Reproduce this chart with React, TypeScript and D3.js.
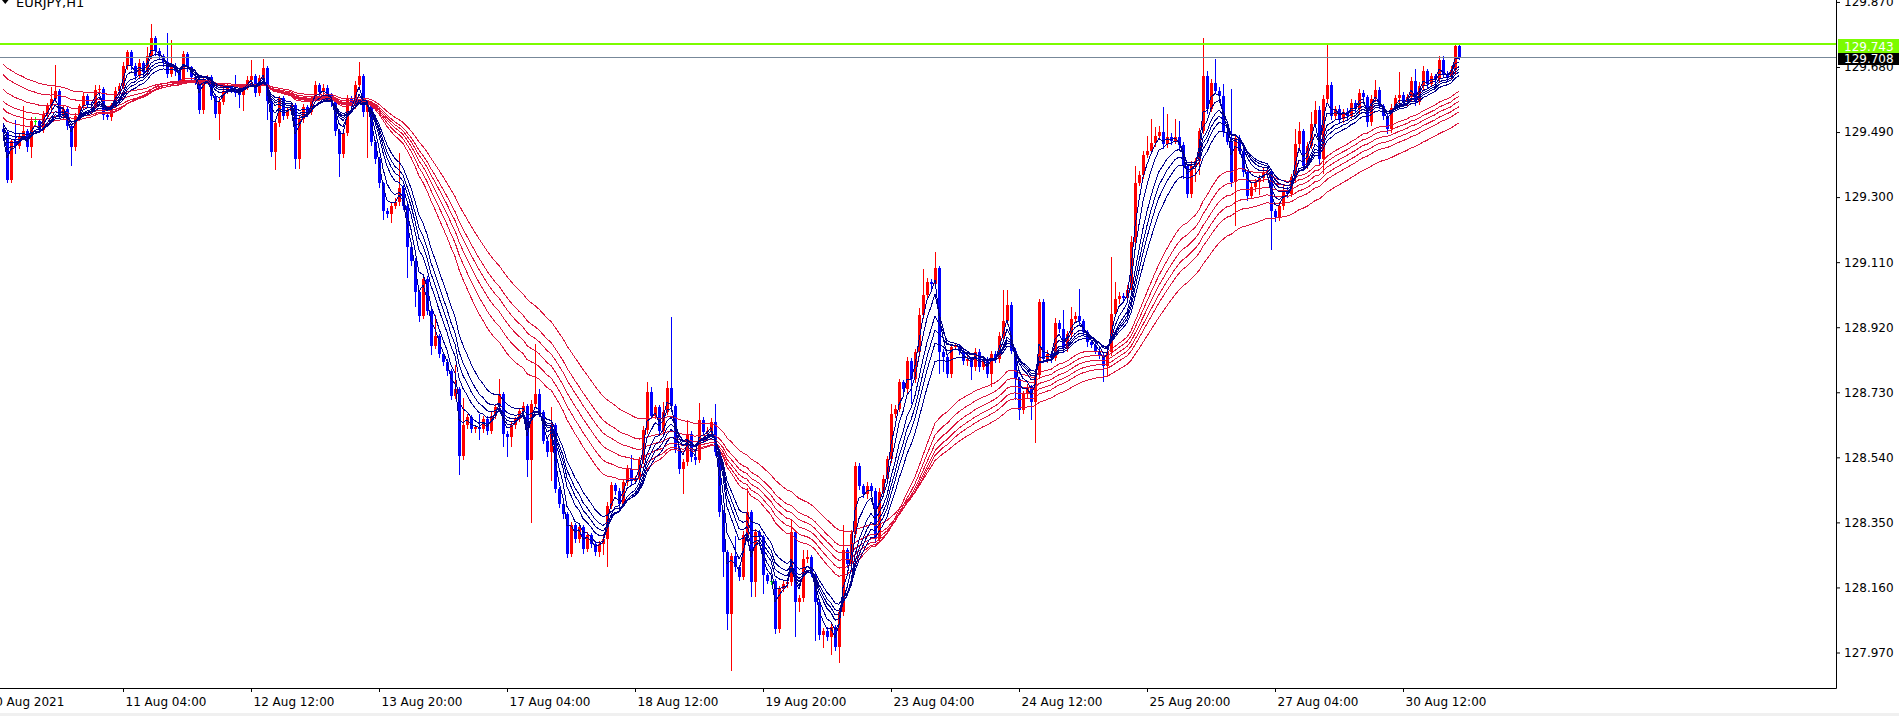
import React, { useRef, useEffect } from 'react';
import * as d3 from 'd3';

// EURJPY H1 closes, one per bar (open = previous close)
const symbol = "EURJPY,H1";
const firstOpen = 129.5;
const closes = [
  129.489, 129.350, 129.465, 129.450, 129.479, 129.494, 129.445, 129.523, 129.523, 129.497,
  129.543, 129.565, 129.586, 129.611, 129.538, 129.557, 129.509, 129.445, 129.538, 129.565,
  129.594, 129.572, 129.569, 129.614, 129.616, 129.540, 129.533, 129.569, 129.611, 129.625,
  129.682, 129.723, 129.684, 129.653, 129.692, 129.664, 129.711, 129.765, 129.728, 129.713,
  129.694, 129.659, 129.684, 129.669, 129.640, 129.718, 129.679, 129.650, 129.643, 129.555,
  129.645, 129.650, 129.596, 129.543, 129.579, 129.611, 129.623, 129.616, 129.604, 129.598,
  129.623, 129.643, 129.653, 129.604, 129.647, 129.677, 129.582, 129.431, 129.516, 129.588,
  129.538, 129.552, 129.569, 129.411, 129.528, 129.562, 129.548, 129.588, 129.627, 129.606,
  129.619, 129.598, 129.577, 129.494, 129.426, 129.487, 129.589, 129.569, 129.628, 129.653,
  129.548, 129.575, 129.460, 129.411, 129.340, 129.260, 129.251, 129.275, 129.285, 129.328,
  129.275, 129.153, 129.114, 129.022, 128.954, 129.061, 128.968, 128.866, 128.895, 128.842,
  128.818, 128.793, 128.720, 128.740, 128.545, 128.633, 128.657, 128.623, 128.628, 128.623,
  128.652, 128.618, 128.662, 128.686, 128.725, 128.608, 128.599, 128.633, 128.652, 128.674,
  128.691, 128.531, 128.696, 128.725, 128.672, 128.589, 128.555, 128.633, 128.448, 128.404,
  128.375, 128.258, 128.341, 128.302, 128.336, 128.273, 128.312, 128.287, 128.263, 128.287,
  128.302, 128.399, 128.458, 128.443, 128.404, 128.467, 128.506, 128.472, 128.477, 128.531,
  128.620, 128.730, 128.662, 128.686, 128.618, 128.672, 128.742, 128.691, 128.564, 128.506,
  128.526, 128.608, 128.540, 128.533, 128.650, 128.613, 128.618, 128.642, 128.555, 128.380,
  128.263, 128.083, 128.251, 128.219, 128.190, 128.312, 128.380, 128.175, 128.321, 128.307,
  128.195, 128.180, 128.180, 128.039, 128.156, 128.170, 128.175, 128.321, 128.117, 128.129,
  128.243, 128.248, 128.200, 128.117, 128.020, 128.034, 128.015, 128.044, 127.986, 128.088,
  128.268, 128.229, 128.316, 128.516, 128.457, 128.433, 128.457, 128.443, 128.302, 128.438,
  128.477, 128.535, 128.667, 128.681, 128.759, 128.740, 128.820, 128.769, 128.847, 128.956,
  129.014, 129.051, 129.046, 129.092, 128.847, 128.832, 128.784, 128.861, 128.864, 128.852,
  128.820, 128.827, 128.803, 128.847, 128.803, 128.827, 128.784, 128.842, 128.827, 128.893,
  128.939, 128.985, 128.852, 128.769, 128.677, 128.725, 128.745, 128.701, 128.779, 128.993,
  128.827, 128.842, 128.829, 128.932, 128.915, 128.858, 128.900, 128.944, 128.952, 128.939,
  128.905, 128.876, 128.868, 128.852, 128.839, 128.808, 128.847, 128.959, 129.002, 129.010,
  129.004, 129.030, 129.170, 129.340, 129.366, 129.424, 129.434, 129.458, 129.479, 129.489,
  129.455, 129.477, 129.465, 129.477, 129.452, 129.392, 129.309, 129.392, 129.405, 129.494,
  129.653, 129.557, 129.633, 129.611, 129.596, 129.489, 129.462, 129.343, 129.472, 129.436,
  129.372, 129.304, 129.329, 129.343, 129.356, 129.372, 129.377, 129.258, 129.241, 129.275,
  129.322, 129.309, 129.358, 129.455, 129.492, 129.392, 129.450, 129.514, 129.555, 129.411,
  129.587, 129.627, 129.538, 129.557, 129.528, 129.550, 129.538, 129.575, 129.557, 129.604,
  129.591, 129.520, 129.587, 129.614, 129.567, 129.538, 129.499, 129.559, 129.589, 129.599,
  129.577, 129.591, 129.640, 129.577, 129.625, 129.667, 129.630, 129.653, 129.645, 129.701,
  129.659, 129.650, 129.672, 129.742, 129.708,
];

// wick lengths above / below the body, in points (0.001)
const upWick = [
  10, 6, 5, 60, 8, 73, 5, 10, 12, 6,
  8, 10, 35, 75, 6, 10, 5, 4, 8, 6,
  10, 8, 6, 12, 10, 5, 8, 6, 10, 8,
  12, 8, 6, 8, 10, 5, 27, 40, 6, 8,
  5, 85, 75, 8, 6, 10, 6, 5, 8, 6,
  10, 8, 6, 5, 12, 8, 10, 6, 40, 8,
  6, 10, 47, 8, 10, 27, 6, 5, 10, 8,
  6, 8, 10, 5, 8, 10, 6, 8, 12, 6,
  10, 8, 6, 5, 6, 10, 8, 6, 10, 42,
  8, 6, 5, 8, 6, 5, 8, 10, 12, 100,
  8, 6, 5, 8, 6, 12, 8, 5, 60, 6,
  5, 8, 6, 70, 6, 80, 10, 8, 6, 40,
  10, 8, 12, 10, 45, 6, 8, 10, 6, 8,
  10, 6, 12, 145, 15, 6, 8, 55, 6, 5,
  8, 6, 10, 8, 12, 6, 10, 8, 6, 10,
  8, 12, 10, 6, 8, 10, 12, 40, 8, 10,
  12, 30, 15, 8, 6, 30, 20, 207, 6, 8,
  10, 40, 8, 6, 50, 8, 10, 12, 55, 6,
  5, 6, 10, 60, 8, 12, 70, 6, 10, 8,
  6, 8, 10, 5, 8, 10, 6, 35, 8, 10,
  25, 20, 8, 6, 5, 8, 10, 8, 6, 10,
  75, 8, 12, 10, 8, 6, 10, 8, 6, 12,
  10, 8, 30, 12, 10, 8, 12, 10, 8, 20,
  75, 12, 10, 48, 6, 8, 6, 10, 8, 6,
  8, 10, 6, 12, 8, 10, 6, 8, 10, 12,
  90, 45, 8, 6, 5, 10, 8, 6, 10, 10,
  8, 12, 10, 15, 8, 55, 10, 35, 12, 80,
  6, 8, 5, 6, 8, 6, 10, 165, 50, 12,
  10, 12, 15, 50, 10, 12, 45, 70, 25, 20,
  75, 65, 10, 50, 45, 8, 6, 12, 10, 8,
  112, 15, 12, 70, 10, 35, 8, 155, 10, 8,
  6, 8, 12, 10, 8, 12, 10, 6, 8, 10,
  12, 8, 10, 45, 27, 8, 12, 35, 27, 10,
  12, 120, 8, 10, 12, 8, 10, 12, 8, 12,
  10, 8, 12, 27, 8, 6, 8, 12, 10, 65,
  8, 10, 12, 35, 10, 17, 8, 10, 8, 12,
  10, 8, 12, 6, 4,
];
const downWick = [
  10, 5, 6, 20, 8, 6, 10, 27, 12, 6,
  6, 8, 10, 6, 8, 6, 10, 50, 6, 8,
  6, 10, 8, 6, 8, 12, 6, 8, 6, 10,
  6, 8, 10, 8, 6, 10, 8, 6, 12, 8,
  10, 8, 6, 12, 8, 6, 10, 8, 12, 10,
  8, 6, 10, 8, 73, 6, 8, 10, 8, 35,
  45, 6, 8, 10, 6, 8, 55, 10, 50, 8,
  10, 8, 6, 25, 25, 8, 10, 6, 8, 10,
  6, 8, 10, 12, 65, 8, 6, 10, 8, 6,
  10, 130, 8, 12, 10, 25, 8, 25, 6, 8,
  10, 85, 12, 40, 15, 8, 10, 25, 8, 10,
  8, 12, 10, 8, 55, 10, 6, 8, 10, 30,
  8, 10, 6, 8, 10, 35, 55, 25, 8, 6,
  8, 45, 180, 8, 10, 6, 12, 80, 8, 10,
  12, 8, 5, 10, 8, 12, 6, 10, 8, 12,
  30, 80, 8, 10, 12, 6, 8, 10, 8, 6,
  8, 10, 8, 6, 12, 8, 6, 10, 8, 12,
  70, 8, 10, 12, 6, 8, 10, 6, 8, 10,
  70, 45, 165, 10, 8, 6, 8, 40, 40, 10,
  50, 8, 10, 12, 8, 6, 10, 8, 100, 25,
  8, 10, 8, 110, 12, 35, 8, 50, 10, 45,
  8, 10, 6, 8, 10, 8, 12, 6, 10, 8,
  6, 8, 10, 8, 6, 10, 8, 70, 8, 10,
  8, 6, 10, 8, 60, 40, 10, 8, 6, 10,
  8, 10, 35, 8, 10, 6, 8, 35, 10, 8,
  6, 10, 8, 60, 25, 8, 10, 50, 115, 8,
  10, 8, 12, 6, 8, 10, 6, 8, 10, 12,
  8, 10, 6, 8, 10, 45, 30, 8, 6, 10,
  8, 6, 10, 8, 6, 10, 8, 6, 10, 8,
  12, 8, 10, 6, 8, 35, 10, 8, 45, 38,
  8, 10, 6, 8, 12, 10, 8, 10, 125, 8,
  10, 12, 8, 10, 35, 8, 6, 110, 10, 8,
  10, 8, 6, 10, 8, 12, 8, 6, 10, 12,
  40, 8, 10, 6, 8, 10, 12, 6, 8, 10,
  8, 12, 10, 6, 8, 10, 12, 8, 6, 10,
  12, 8, 10, 8, 6, 10, 8, 6, 10, 8,
  8, 10, 6, 12, 4,
];

// Guppy MMA: short EMAs (navy) and long EMAs (crimson), value at the left edge
const shortPeriods = [3, 5, 8, 10, 12, 15];
const shortStart = [129.47, 129.48, 129.49, 129.5, 129.51, 129.52];
const longPeriods = [30, 35, 40, 45, 50, 60];
const longStart = [129.536, 129.563, 129.586, 129.621, 129.665, 129.695];

const priceTicks = [127.97, 128.16, 128.35, 128.54, 128.73, 128.92, 129.11, 129.3, 129.49, 129.68, 129.87];
const timeTickBars = [-3, 30, 62, 94, 126, 158, 190, 222, 254, 286, 318, 350];
const timeTickLabels = [
  "10 Aug 2021", "11 Aug 04:00", "12 Aug 12:00", "13 Aug 20:00", "17 Aug 04:00", "18 Aug 12:00",
  "19 Aug 20:00", "23 Aug 04:00", "24 Aug 12:00", "25 Aug 20:00", "27 Aug 04:00", "30 Aug 12:00",
];
const askPrice = 129.743;
const bidPrice = 129.708;

export default function App() {
  const svgRef = useRef<SVGSVGElement | null>(null);

  useEffect(() => {
    if (!svgRef.current) return;
    const svg = d3.select(svgRef.current);
    svg.selectAll("*").remove();

    const width = 1899;
    const height = 716;
    const plotRight = 1836;
    const plotBottom = 688;
    const font = "DejaVu Sans, Verdana, sans-serif";

    svg.attr("width", width).attr("height", height);

    svg.append("rect").attr("width", width).attr("height", height).attr("fill", "#ffffff");
    svg.append("rect").attr("y", 713).attr("width", width).attr("height", 3).attr("fill", "#f0f0f0");

    const x = d3.scaleLinear()
      .domain([0, closes.length - 1])
      .range([3, 3 + 4 * (closes.length - 1)]);
    const y = d3.scaleLinear()
      .domain([127.97, 129.87])
      .range([652.5, 652.5 - 1.9 * 342.4]);

    svg.append("defs").append("clipPath").attr("id", "plot-clip")
      .append("rect").attr("width", plotRight).attr("height", plotBottom);

    const plot = svg.append("g").attr("clip-path", "url(#plot-clip)");

    // candles
    const bars = closes.map((c, i) => {
      const o = i === 0 ? firstOpen : closes[i - 1];
      const top = Math.max(o, c);
      const bot = Math.min(o, c);
      const color = c > o ? "#ff0000" : c < o ? "#0000ff" : "#00ff00";
      return { i, o, c, top, bot, h: top + upWick[i] / 1000, l: bot - downWick[i] / 1000, color };
    });

    const candles = plot.append("g").attr("shape-rendering", "crispEdges");
    candles.selectAll("line.wick")
      .data(bars)
      .enter()
      .append("line")
      .attr("class", "wick")
      .attr("x1", d => Math.round(x(d.i)) + 0.5)
      .attr("x2", d => Math.round(x(d.i)) + 0.5)
      .attr("y1", d => Math.round(y(d.h)))
      .attr("y2", d => Math.round(y(d.l)) + 1)
      .attr("stroke", d => d.color)
      .attr("stroke-width", 1);

    candles.selectAll("rect.body")
      .data(bars)
      .enter()
      .append("rect")
      .attr("class", "body")
      .attr("x", d => Math.round(x(d.i)) - 1)
      .attr("width", 3)
      .attr("y", d => Math.round(y(d.top)))
      .attr("height", d => Math.max(1, Math.round(y(d.bot)) - Math.round(y(d.top))))
      .attr("fill", d => d.color);

    // moving averages, drawn aliased like the terminal does
    const ema = (period: number, start: number) => {
      const k = 2 / (period + 1);
      let v = start;
      return closes.map(c => (v = v + k * (c - v)));
    };
    const line = d3.line<number>().x((_, i) => x(i)).y(v => y(v));

    const mas = plot.append("g")
      .attr("fill", "none")
      .attr("stroke-width", 1)
      .attr("shape-rendering", "crispEdges");
    longPeriods.forEach((p, j) => {
      mas.append("path")
        .attr("d", line(ema(p, longStart[j])))
        .attr("stroke", "#dc143c");
    });
    shortPeriods.forEach((p, j) => {
      mas.append("path")
        .attr("d", line(ema(p, shortStart[j])))
        .attr("stroke", "#00008b");
    });

    // ask and bid lines
    plot.append("line")
      .attr("x1", 0).attr("x2", plotRight)
      .attr("y1", Math.round(y(bidPrice)) + 0.5).attr("y2", Math.round(y(bidPrice)) + 0.5)
      .attr("stroke", "#778899").attr("stroke-width", 1);
    plot.append("line")
      .attr("x1", 0).attr("x2", plotRight)
      .attr("y1", Math.round(y(askPrice)) - 1).attr("y2", Math.round(y(askPrice)) - 1)
      .attr("stroke", "#7cfc00").attr("stroke-width", 2);

    // frame
    svg.append("path")
      .attr("d", `M0,${plotBottom + 0.5}H${plotRight + 0.5}V0`)
      .attr("fill", "none")
      .attr("stroke", "#000")
      .attr("stroke-width", 1);

    // price axis
    const yAxis = d3.axisRight(y)
      .tickValues(priceTicks)
      .tickFormat(d => d3.format(".3f")(d as number))
      .tickSize(4)
      .tickSizeOuter(0);
    svg.append("g")
      .attr("transform", `translate(${plotRight}, 0)`)
      .call(yAxis)
      .call(g => g.select(".domain").remove())
      .call(g => g.selectAll("line").attr("stroke", "#000"))
      .selectAll("text")
      .attr("x", 8)
      .attr("font-family", font)
      .attr("font-size", "12px")
      .attr("fill", "#000");

    // time axis
    const xAxis = d3.axisBottom(x)
      .tickValues(timeTickBars)
      .tickFormat((_, i) => timeTickLabels[i])
      .tickSize(4)
      .tickSizeOuter(0);
    svg.append("g")
      .attr("transform", `translate(0, ${plotBottom})`)
      .call(xAxis)
      .call(g => g.select(".domain").remove())
      .call(g => g.selectAll("line").attr("stroke", "#000"))
      .selectAll("text")
      .attr("text-anchor", "start")
      .attr("x", (_, i) => (i === 0 ? -4 : 2))
      .attr("y", 9)
      .attr("font-family", font)
      .attr("font-size", "12px")
      .attr("fill", "#000");

    // price labels on the axis
    const tags = [
      { price: bidPrice, bg: "#000000" },
      { price: askPrice, bg: "#7cfc00" },
    ];
    tags.forEach(t => {
      const cy = y(t.price);
      svg.append("rect")
        .attr("x", plotRight + 2)
        .attr("y", Math.round(cy) - 6)
        .attr("width", width - plotRight - 2)
        .attr("height", 14)
        .attr("fill", t.bg);
      svg.append("text")
        .attr("x", plotRight + 8)
        .attr("y", Math.round(cy) + 5.5)
        .attr("font-family", font)
        .attr("font-size", "12px")
        .attr("fill", "#ffffff")
        .text(t.price.toFixed(3));
    });

    // symbol caption
    svg.append("path").attr("d", "M2,0H8.5L5.25,4Z").attr("fill", "#000");
    svg.append("text")
      .attr("x", 16)
      .attr("y", 7)
      .attr("font-family", font)
      .attr("font-size", "13px")
      .attr("fill", "#000")
      .text(symbol);
  }, []);

  return (
    <svg
      ref={svgRef}
      style={{ position: "absolute", left: 0, top: 0, display: "block" }}
    />
  );
}
